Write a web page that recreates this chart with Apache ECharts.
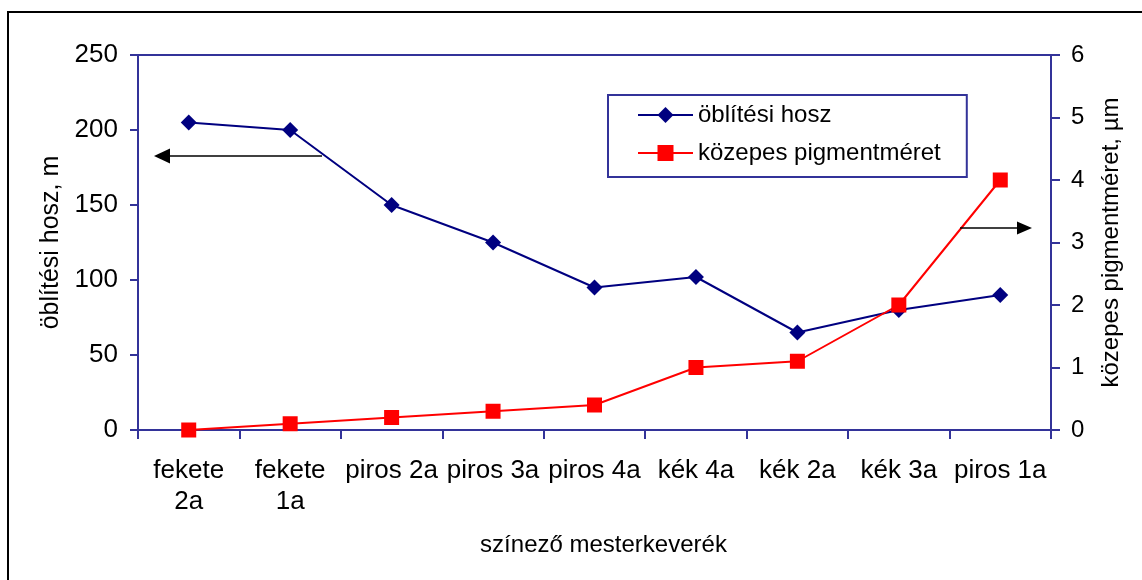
<!DOCTYPE html>
<html>
<head>
<meta charset="utf-8">
<script src="https://cdn.jsdelivr.net/npm/echarts@6/dist/echarts.min.js"></script>
<style>
html,body{margin:0;padding:0;background:#fff;}
#c{width:1142px;height:580px;}
</style>
</head>
<body>
<div id="c"></div>
<script>
const categories = ['fekete\n2a', 'fekete\n1a', 'piros 2a', 'piros 3a', 'piros 4a', 'kék 4a', 'kék 2a', 'kék 3a', 'piros 1a'];
const rinseLength = [205, 200, 150, 125, 95, 102, 65, 80, 90];
const pigmentSize = [0, 0.1, 0.2, 0.3, 0.4, 1.0, 1.1, 2.0, 4.0];
const leftTicks = {min: 0, max: 250, interval: 50};
const rightTicks = {min: 0, max: 6, interval: 1};

const AX = '#333399';
const FONT = '"Liberation Sans", Arial, sans-serif';
const chart = echarts.init(document.getElementById('c'), null, {renderer: 'canvas'});

chart.setOption({
  backgroundColor: '#ffffff',
  animation: false,
  textStyle: {fontFamily: FONT, color: '#000'},
  grid: {left: 138, right: 91, top: 55, bottom: 150, show: true, borderColor: AX, borderWidth: 2, backgroundColor: 'transparent'},
  legend: {
    orient: 'vertical', left: 608, top: 95,
    padding: [8, 26, 12, 29],
    itemWidth: 55, itemHeight: 20, itemGap: 14,
    borderColor: AX, borderWidth: 2,
    textStyle: {fontSize: 24, fontFamily: FONT, color: '#000', lineHeight: 24},
    data: ['öblítési hosz', 'közepes pigmentméret']
  },
  xAxis: {
    type: 'category', data: categories, boundaryGap: true,
    axisLine: {lineStyle: {color: AX, width: 2}},
    axisTick: {show: true, inside: false, length: 9, alignWithLabel: false, lineStyle: {color: AX, width: 2}},
    axisLabel: {fontSize: 26, fontFamily: FONT, color: '#000', lineHeight: 31, margin: 25, interval: 0},
    name: 'színező mesterkeverék', nameLocation: 'middle', nameGap: 103,
    nameTextStyle: {fontSize: 24, fontFamily: FONT, color: '#000', padding: [0, 0, 0, 18]}
  },
  yAxis: [
    {
      type: 'value', min: leftTicks.min, max: leftTicks.max, interval: leftTicks.interval, position: 'left',
      axisLine: {show: true, lineStyle: {color: AX, width: 2}},
      axisTick: {show: true, length: 8, lineStyle: {color: AX, width: 2}},
      axisLabel: {fontSize: 26, fontFamily: FONT, color: '#000', margin: 20},
      splitLine: {show: false},
      name: 'öblítési hosz, m', nameLocation: 'middle', nameGap: 74, nameRotate: 90,
      nameTextStyle: {fontSize: 25, fontFamily: FONT, color: '#000'}
    },
    {
      type: 'value', min: rightTicks.min, max: rightTicks.max, interval: rightTicks.interval, position: 'right',
      axisLine: {show: true, lineStyle: {color: AX, width: 2}},
      axisTick: {show: true, length: 9, lineStyle: {color: AX, width: 2}},
      axisLabel: {fontSize: 24, fontFamily: FONT, color: '#000', margin: 20},
      splitLine: {show: false},
      name: 'közepes pigmentméret, µm', nameLocation: 'middle', nameGap: 48, nameRotate: 90,
      nameTextStyle: {fontSize: 24, fontFamily: FONT, color: '#000'}
    }
  ],
  series: [
    {
      name: 'öblítési hosz', type: 'line', yAxisIndex: 0, data: rinseLength,
      symbol: 'diamond', symbolSize: 16, showSymbol: true,
      lineStyle: {color: '#000080', width: 2},
      itemStyle: {color: '#000080'}
    },
    {
      name: 'közepes pigmentméret', type: 'line', yAxisIndex: 1, data: pigmentSize,
      symbol: 'rect', symbolSize: 15, showSymbol: true,
      lineStyle: {color: '#ff0000', width: 2},
      itemStyle: {color: '#ff0000'}
    }
  ],
  graphic: [
    {type: 'rect', shape: {x: 8, y: 12, width: 1150, height: 600}, style: {fill: 'none', stroke: '#000', lineWidth: 2}, z: 100},
    {type: 'line', shape: {x1: 322, y1: 156, x2: 168, y2: 156}, style: {stroke: '#000', lineWidth: 1.5}, z: 100},
    {type: 'polygon', shape: {points: [[154, 156], [170, 148.5], [170, 163.5]]}, style: {fill: '#000'}, z: 100},
    {type: 'line', shape: {x1: 960, y1: 228, x2: 1019, y2: 228}, style: {stroke: '#000', lineWidth: 1.5}, z: 100},
    {type: 'polygon', shape: {points: [[1032, 228], [1017, 221.5], [1017, 234.5]]}, style: {fill: '#000'}, z: 100}
  ]
});
</script>
</body>
</html>
